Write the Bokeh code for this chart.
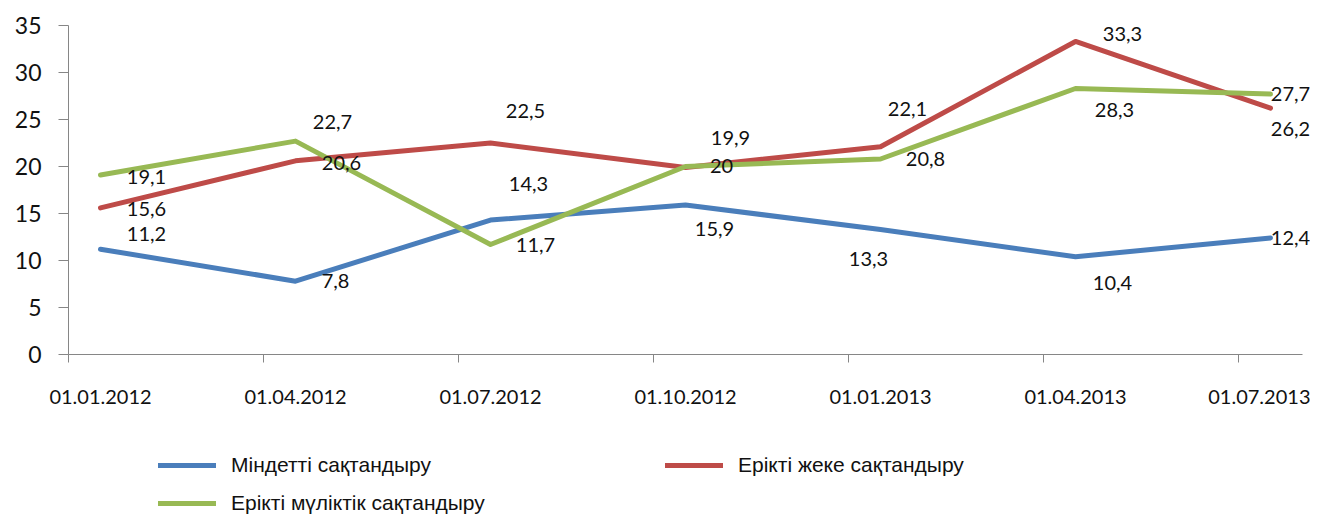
from bokeh.plotting import figure
from bokeh.models import (ColumnDataSource, FixedTicker, LabelSet, Legend, LegendItem, Range1d)
from bokeh.core.properties import value
from bokeh.embed import file_html
from bokeh.resources import INLINE

# ---- data ----
dates = ["01.01.2012", "01.04.2012", "01.07.2012", "01.10.2012",
         "01.01.2013", "01.04.2013", "01.07.2013"]
mindetti = [11.2, 7.8, 14.3, 15.9, 13.3, 10.4, 12.4]
erikti_zheke = [15.6, 20.6, 22.5, 19.9, 22.1, 33.3, 26.2]
erikti_mulik = [19.1, 22.7, 11.7, 20.0, 20.8, 28.3, 27.7]
series_names = ["Міндетті сақтандыру", "Ерікті жеке сақтандыру", "Ерікті мүліктік сақтандыру"]
y_ticks = [0, 5, 10, 15, 20, 25, 30, 35]

# ---- styling ----
colors = ["#4A7EBB", "#BE4B48", "#98B954"]
# data-label pixel offsets (dx right, dy down) per series
label_offsets = [
    [(46, -15), (40, 0), (38, -36), (29, 24), (-12, 30), (37, 26), (20, 0)],
    [(46, 1), (46, 2), (35, -32), (45, -29), (27, -38), (47, -7), (20, 21)],
    [(46, 2), (37, -19), (45, 0), (36, -1), (45, 0), (39, 22), (20, 0)],
]
FONT = "Lato"
AXIS_COLOR = "#868686"

xs = list(range(len(dates)))
px_per_cat = 195.0
pad_left = 32 / px_per_cat          # gap between y axis and first category
left_space = 68 / px_per_cat        # room for y tick labels, inside the frame
pad_right = 40 / px_per_cat
px_per_unit = 329 / 35.0
y_bottom = -(515 - 354) / px_per_unit   # room for x labels and legend, inside the frame
y_top = 35 + 25 / px_per_unit           # room above the top tick label

p = figure(width=1310, height=515, output_backend="svg", toolbar_location=None,
           x_range=Range1d(-pad_left - left_space, len(dates) - 1 + pad_right),
           y_range=Range1d(y_bottom, y_top),
           min_border_left=0, min_border_right=0, min_border_top=0, min_border_bottom=0)
p.outline_line_color = None
p.xgrid.visible = False
p.ygrid.visible = False
p.background_fill_color = "white"
p.border_fill_color = "white"

# y axis (drawn at the left edge of the category area)
p.yaxis.fixed_location = -pad_left
p.yaxis.bounds = (0, 35)
p.yaxis.ticker = FixedTicker(ticks=y_ticks)
p.yaxis.axis_line_color = AXIS_COLOR
p.yaxis.major_tick_line_color = AXIS_COLOR
p.yaxis.major_tick_out = 10
p.yaxis.major_tick_in = 0
p.yaxis.minor_tick_line_color = None
p.yaxis.major_label_text_font = FONT
p.yaxis.major_label_text_font_size = "23px"
p.yaxis.major_label_text_color = "#111111"
p.yaxis.major_label_standoff = 17

# x axis (drawn at y = 0 inside the frame)
p.xaxis.fixed_location = 0
p.xaxis.bounds = (-pad_left, len(dates) - 1 + pad_left)
p.xaxis.ticker = FixedTicker(ticks=xs, minor_ticks=[i - pad_left for i in xs])
p.xaxis.major_label_overrides = {i: d for i, d in zip(xs, dates)}
p.xaxis.axis_line_color = AXIS_COLOR
p.xaxis.major_tick_line_color = None
p.xaxis.major_tick_out = 0
p.xaxis.major_tick_in = 0
p.xaxis.minor_tick_line_color = AXIS_COLOR
p.xaxis.minor_tick_out = 8
p.xaxis.minor_tick_in = 0
p.xaxis.major_label_text_font = FONT
p.xaxis.major_label_text_font_size = "20px"
p.xaxis.major_label_text_color = "#111111"
p.xaxis.major_label_standoff = 27

items = []
for name, vals, col, offs in zip(series_names, [mindetti, erikti_zheke, erikti_mulik], colors, label_offsets):
    src = ColumnDataSource(dict(
        x=xs, y=vals,
        txt=[("%g" % v).replace(".", ",") for v in vals],
        dx=[o[0] for o in offs], dy=[-o[1] for o in offs],
    ))
    r = p.line("x", "y", source=src, line_color=col, line_width=5, line_join="round", line_cap="round")
    items.append(LegendItem(label=name, renderers=[r]))
    lbl = LabelSet(x="x", y="y", text="txt", source=src, x_offset="dx", y_offset="dy",
                   text_align="center", text_baseline="middle",
                   text_font=value(FONT), text_font_size="20px", text_color="#111111")
    p.add_layout(lbl)

legend = Legend(items=items, location=(158, 0), orientation="horizontal", ncols=2,
                glyph_width=58, glyph_height=24, label_height=24, label_width=420,
                label_standoff=15, spacing=14, padding=0, margin=0,
                border_line_color=None, background_fill_alpha=0,
                label_text_font="Liberation Sans", label_text_font_size="21px",
                label_text_color="#111111")
p.add_layout(legend, "center")

open("out.html", "w").write(file_html(p, INLINE))
